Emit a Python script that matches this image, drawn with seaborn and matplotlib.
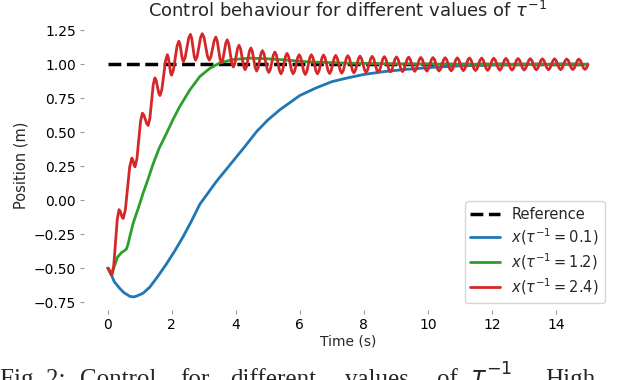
import numpy as np
import pandas as pd
import matplotlib
matplotlib.use("Agg")
import matplotlib.pyplot as plt
import seaborn as sns

# values
ref_t = [0, 15]
ref_x = [1.0, 1.0]

blue_t = [0, 0.11, 0.2, 0.375, 0.5, 0.69, 0.8, 0.9, 1.1, 1.31, 1.55, 1.83, 2.1, 2.35, 2.6,
          2.875, 3.4, 3.92, 4.3, 4.65, 5.0, 5.375, 6.0, 6.5, 7.0, 7.5, 8.0, 8.6, 9.3, 10.2,
          11.0, 12.0, 13.0, 14.0, 15.0]
blue_x = [-0.5, -0.55, -0.6, -0.65, -0.68, -0.708, -0.712, -0.706, -0.685, -0.64, -0.565, -0.47,
          -0.37, -0.27, -0.16, -0.03, 0.14, 0.29, 0.40, 0.505, 0.59, 0.665, 0.77, 0.825, 0.872,
          0.9, 0.925, 0.945, 0.962, 0.978, 0.988, 0.994, 0.998, 1.0, 1.0]

green_t = [0, 0.11, 0.2, 0.3, 0.43, 0.5, 0.58, 0.63, 0.68, 0.79, 0.95, 1.1, 1.25, 1.42, 1.6,
           1.83, 2.05, 2.25, 2.56, 2.875, 3.19, 3.5, 3.92, 4.44, 5.0, 5.47, 6.3, 7.5, 9.0,
           11.0, 13.0, 15.0]
green_x = [-0.5, -0.55, -0.49, -0.42, -0.385, -0.375, -0.36, -0.325, -0.275, -0.17, -0.06, 0.05,
           0.15, 0.27, 0.38, 0.49, 0.6, 0.69, 0.81, 0.91, 0.97, 1.01, 1.035, 1.045, 1.04,
           1.033, 1.017, 1.008, 1.003, 1.0, 1.0, 1.0]

red_t = [0, 0.033, 0.065, 0.098,
         0.13, 0.185, 0.24, 0.295,
         0.35, 0.383, 0.415, 0.448,
         0.48, 0.548, 0.615, 0.683,
         0.75, 0.775, 0.8, 0.825,
         0.85, 0.908, 0.965, 1.023,
         1.08, 1.125, 1.17, 1.215,
         1.26, 1.313, 1.365, 1.418,
         1.47, 1.51, 1.55, 1.59,
         1.63, 1.688, 1.745, 1.803,
         1.86, 1.893, 1.925, 1.958,
         1.99, 2.048, 2.105, 2.163,
         2.22, 2.255, 2.29, 2.325,
         2.36, 2.415, 2.47, 2.525,
         2.58, 2.62, 2.66, 2.7,
         2.74, 2.793, 2.845, 2.898,
         2.95, 3.005, 3.06, 3.115,
         3.17, 3.221, 3.273, 3.324,
         3.375, 3.419, 3.463, 3.506,
         3.55, 3.595, 3.64, 3.685,
         3.73, 3.778, 3.825, 3.873,
         3.92, 3.965, 4.01, 4.055,
         4.1, 4.148, 4.195, 4.243,
         4.29, 4.335, 4.38, 4.425,
         4.47, 4.515, 4.56, 4.605,
         4.65, 4.695, 4.74, 4.785,
         4.83, 4.88, 4.93, 4.98,
         5.03, 5.078, 5.125, 5.173,
         5.22, 5.268, 5.315, 5.363,
         5.41, 5.458, 5.505, 5.553,
         5.6, 5.648, 5.695, 5.743,
         5.79, 5.838, 5.885, 5.933,
         5.98, 6.028, 6.075, 6.123,
         6.17, 6.218, 6.265, 6.313,
         6.36, 6.408, 6.455, 6.503, 6.55, 6.598, 6.645, 6.693,
         6.74, 6.788, 6.835, 6.883, 6.93, 6.978, 7.025, 7.073,
         7.12, 7.168, 7.215, 7.263, 7.31, 7.358, 7.405, 7.453,
         7.5, 7.548, 7.595, 7.643, 7.69, 7.738, 7.785, 7.833,
         7.88, 7.928, 7.975, 8.023, 8.07, 8.118, 8.165, 8.213,
         8.26, 8.308, 8.355, 8.403, 8.45, 8.498, 8.545, 8.593,
         8.64, 8.688, 8.735, 8.783, 8.83, 8.878, 8.925, 8.973,
         9.02, 9.068, 9.115, 9.163, 9.21, 9.258, 9.305, 9.353,
         9.4, 9.448, 9.495, 9.543, 9.59, 9.638, 9.685, 9.733,
         9.78, 9.828, 9.875, 9.923, 9.97, 10.018, 10.065, 10.113,
         10.16, 10.208, 10.255, 10.303, 10.35, 10.398, 10.445, 10.493,
         10.54, 10.588, 10.635, 10.683, 10.73, 10.778, 10.825, 10.873,
         10.92, 10.968, 11.015, 11.063, 11.11, 11.158, 11.205, 11.253,
         11.3, 11.348, 11.395, 11.443, 11.49, 11.538, 11.585, 11.633,
         11.68, 11.728, 11.775, 11.823, 11.87, 11.918, 11.965, 12.013,
         12.06, 12.108, 12.155, 12.203, 12.25, 12.298, 12.345, 12.393,
         12.44, 12.488, 12.535, 12.583, 12.63, 12.678, 12.725, 12.773,
         12.82, 12.868, 12.915, 12.963, 13.01, 13.058, 13.105, 13.153,
         13.2, 13.248, 13.295, 13.343, 13.39, 13.438, 13.485, 13.533,
         13.58, 13.628, 13.675, 13.723, 13.77, 13.818, 13.865, 13.913,
         13.96, 14.008, 14.055, 14.103, 14.15, 14.198, 14.245, 14.293,
         14.34, 14.388, 14.435, 14.483, 14.53, 14.578, 14.625, 14.673,
         14.72, 14.768, 14.815, 14.863, 14.91, 14.958, 15.0]
red_x = [-0.5, -0.507, -0.525, -0.543,
         -0.55, -0.48, -0.31, -0.14,
         -0.07, -0.08, -0.103, -0.126,
         -0.135, -0.07, 0.088, 0.245,
         0.31, 0.30, 0.278, 0.255,
         0.245, 0.303, 0.443, 0.582,
         0.64, 0.627, 0.595, 0.563,
         0.55, 0.601, 0.725, 0.849,
         0.90, 0.881, 0.835, 0.789,
         0.77, 0.814, 0.92, 1.026,
         1.07, 1.048, 0.995, 0.942,
         0.92, 0.957, 1.045, 1.134,
         1.17, 1.148, 1.095, 1.042,
         1.02, 1.049, 1.12, 1.191,
         1.22, 1.192, 1.125, 1.058,
         1.03, 1.058, 1.128, 1.197,
         1.225, 1.197, 1.128, 1.058,
         1.03, 1.055, 1.115, 1.175,
         1.20, 1.172, 1.105, 1.038,
         1.01, 1.035, 1.095, 1.155,
         1.18, 1.151, 1.08, 1.009,
         0.98, 1.003, 1.06, 1.117,
         1.14, 1.114, 1.05, 0.986,
         0.96, 0.983, 1.04, 1.097,
         1.12, 1.095, 1.035, 0.975,
         0.95, 0.972, 1.025, 1.078,
         1.10, 1.077, 1.02, 0.963,
         0.94, 0.962, 1.015, 1.068,
         1.09, 1.067, 1.01, 0.953,
         0.93, 0.952, 1.005, 1.058,
         1.08, 1.058, 1.005, 0.952,
         0.93, 0.95, 1.0, 1.05,
         1.07, 1.049, 0.998, 0.946,
         0.925, 0.946, 0.998, 1.049,
         1.07, 1.05, 1.0, 0.95, 0.93, 0.95, 1.0, 1.048,
         1.068, 1.048, 1.0, 0.952, 0.932, 0.952, 1.0, 1.046,
         1.065, 1.046, 1.0, 0.954, 0.935, 0.954, 1.0, 1.045,
         1.063, 1.045, 1.0, 0.955, 0.937, 0.955, 1.0, 1.042,
         1.06, 1.042, 1.0, 0.958, 0.94, 0.958, 1.0, 1.041,
         1.058, 1.041, 1.0, 0.959, 0.942, 0.959, 1.0, 1.04,
         1.056, 1.04, 1.0, 0.96, 0.944, 0.96, 1.0, 1.038,
         1.054, 1.038, 1.0, 0.962, 0.946, 0.962, 1.0, 1.037,
         1.052, 1.037, 1.0, 0.963, 0.948, 0.963, 1.0, 1.035,
         1.05, 1.035, 1.0, 0.965, 0.95, 0.965, 1.0, 1.035,
         1.049, 1.035, 1.0, 0.965, 0.951, 0.965, 1.0, 1.034,
         1.048, 1.034, 1.0, 0.966, 0.952, 0.966, 1.0, 1.033,
         1.047, 1.033, 1.0, 0.967, 0.953, 0.967, 1.0, 1.033,
         1.046, 1.033, 1.0, 0.967, 0.954, 0.967, 1.0, 1.032,
         1.045, 1.032, 1.0, 0.968, 0.955, 0.968, 1.0, 1.031,
         1.044, 1.031, 1.0, 0.969, 0.956, 0.969, 1.0, 1.03,
         1.043, 1.03, 1.0, 0.97, 0.957, 0.97, 1.0, 1.03,
         1.042, 1.03, 1.0, 0.97, 0.958, 0.97, 1.0, 1.029,
         1.041, 1.029, 1.0, 0.971, 0.959, 0.971, 1.0, 1.028,
         1.04, 1.028, 1.0, 0.972, 0.96, 0.972, 1.0, 1.028,
         1.04, 1.028, 1.0, 0.972, 0.96, 0.972, 1.0, 1.028,
         1.039, 1.028, 1.0, 0.972, 0.961, 0.972, 1.0, 1.027,
         1.038, 1.027, 1.0, 0.973, 0.962, 0.973, 0.995]

# caption words of the paper below the figure
caption_words = ["Fig. 2:", "Control", "for", "different", "values", "of", r"$\tau^{-1}$.", "High"]
caption_px = [0, 80, 180, 230, 345, 437, 470, 545]

sns.set_style("ticks")
plt.rcParams["font.family"] = ["DejaVu Sans"]

fig, ax = plt.subplots(figsize=(6.4, 3.8), dpi=100)
fig.subplots_adjust(left=0.131, right=0.956, bottom=0.184, top=0.946)

sns.lineplot(x=ref_t, y=ref_x, ax=ax, color="black", linestyle="--", linewidth=2.5, label="Reference")
sns.lineplot(x=blue_t, y=blue_x, ax=ax, color="#1f77b4", linewidth=2, label=r"$x(\tau^{-1}=0.1)$")
sns.lineplot(x=green_t, y=green_x, ax=ax, color="#2ca02c", linewidth=2, label=r"$x(\tau^{-1}=1.2)$")
sns.lineplot(x=red_t, y=red_x, ax=ax, color="#d62728", linewidth=2, label=r"$x(\tau^{-1}=2.4)$")

ax.set_xticks([0, 2, 4, 6, 8, 10, 12, 14])
ax.set_yticks([-0.75, -0.5, -0.25, 0, 0.25, 0.5, 0.75, 1.0, 1.25])
ax.tick_params(colors="black", color="0.6", labelsize=10, length=3, pad=2.5)
ax.set_title(r"Control behaviour for different values of $\tau^{-1}$", fontsize=13, pad=2)
ax.set_xlabel("Time (s)", fontsize=10, labelpad=2)
ax.set_ylabel("Position (m)", fontsize=10.5)
ax.legend(loc="lower right", fontsize=10.5, labelspacing=0.3)
sns.despine(left=True, bottom=True)

# caption of the paper, cut by the bottom edge as in the screenshot
for word, px in zip(caption_words, caption_px):
    fig.text(px / 640, -0.016, word, fontsize=18, family="Liberation Serif", va="baseline", ha="left")

fig.savefig("out.png", dpi=100)
